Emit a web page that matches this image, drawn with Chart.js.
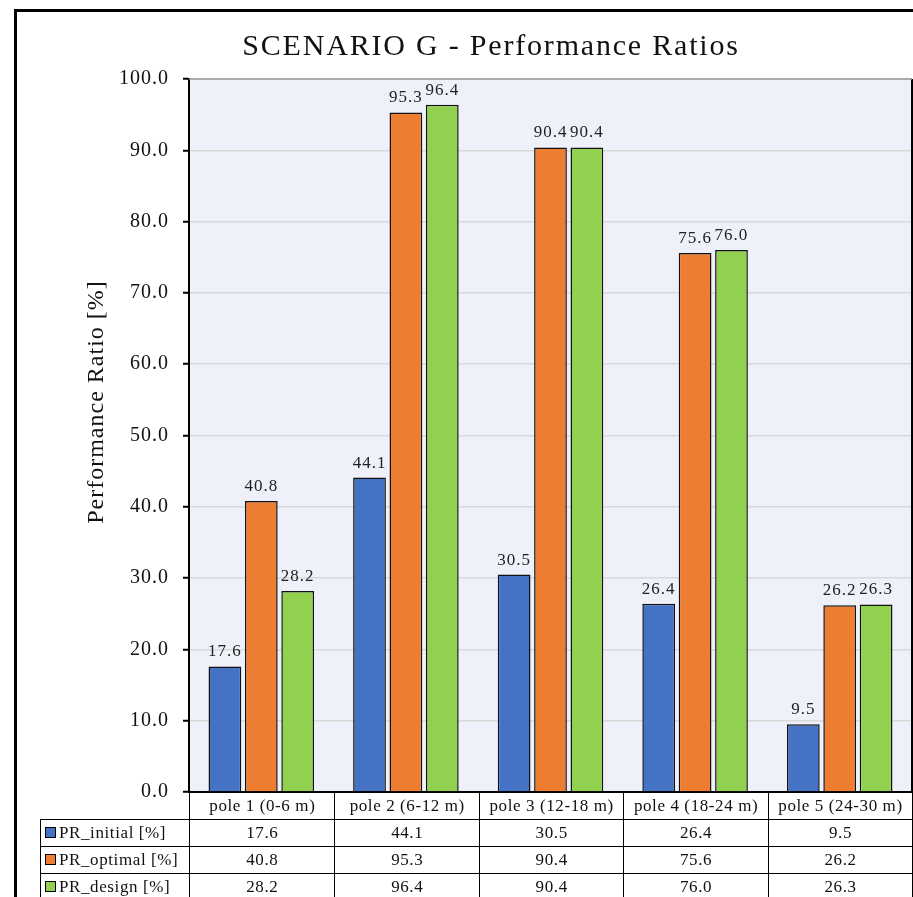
<!DOCTYPE html>
<html>
<head>
<meta charset="utf-8">
<script src="https://cdn.jsdelivr.net/npm/chart.js@4"></script>
<style>
  html, body { margin: 0; padding: 0; background: #fff; }
  #wrap { position: relative; width: 913px; height: 897px; overflow: hidden; }
  #frame { position: absolute; left: 14px; top: 9px; right: -10px; bottom: -10px;
           border-left: 3px solid #000; border-top: 3px solid #000; }
  #chart { position: absolute; left: 0; top: 0; }
  #dtable { position: absolute; left: 40px; top: 792px; border-collapse: collapse;
            font-family: "Liberation Serif", serif; font-size: 17px; letter-spacing: 0.6px; color: #111; }
  #dtable td { border: 1.5px solid #000; text-align: center; padding: 0; height: 26px; }
  #dtable td.blank { border: none; border-right: 1.5px solid #000; }
  #dtable td.lab { text-align: left; padding-left: 4px; white-space: nowrap; }
  .sw { display: inline-block; width: 9px; height: 9px; border: 1px solid #000; margin-right: 3px; vertical-align: 0px; }
</style>
</head>
<body>
<div id="wrap">
  <div id="frame"></div>
  <canvas id="chart" width="913" height="897"></canvas>
  <table id="dtable"></table>
</div>
<script>
// ----------- data -----------
const categories = ["pole 1 (0-6 m)", "pole 2 (6-12 m)", "pole 3 (12-18 m)", "pole 4 (18-24 m)", "pole 5 (24-30 m)"];
const seriesNames = ["PR_initial [%]", "PR_optimal [%]", "PR_design [%]"];
const prInitial = [17.6, 44.1, 30.5, 26.4, 9.5];
const prOptimal = [40.8, 95.3, 90.4, 75.6, 26.2];
const prDesign = [28.2, 96.4, 90.4, 76.0, 26.3];
const colors = ["#4472C4", "#ED7D31", "#92D050"];
const yMax = 100;
const yStep = 10;

const serif = "'Liberation Serif', serif";
const seriesValues = [prInitial, prOptimal, prDesign];

// data table under the plot
const table = document.getElementById("dtable");
const colW = [149, 145, 145, 144, 145, 144];
let html = "<tr><td class='blank' style='width:" + colW[0] + "px'></td>";
categories.forEach((c, i) => { html += "<td style='width:" + colW[i + 1] + "px'>" + c + "</td>"; });
html += "</tr>";
seriesNames.forEach((name, s) => {
  html += "<tr><td class='lab'><span class='sw' style='background:" + colors[s] + "'></span>" + name + "</td>";
  seriesValues[s].forEach(v => { html += "<td>" + v.toFixed(1) + "</td>"; });
  html += "</tr>";
});
table.innerHTML = html;

// background, frame, titles, value labels
const decor = {
  id: "decor",
  beforeDraw(chart) {
    const { ctx, chartArea: a } = chart;
    ctx.save();
    ctx.fillStyle = "#EEF1F9";
    ctx.fillRect(a.left, a.top, a.right - a.left, a.bottom - a.top);
    ctx.restore();
    // wider spacing for the tick labels (closer to the original serif face)
    ctx.letterSpacing = "1px";
  },
  afterDraw(chart) {
    const { ctx, chartArea: a } = chart;
    ctx.save();
    ctx.strokeStyle = "#000";
    ctx.lineWidth = 2;
    ctx.beginPath();
    ctx.moveTo(a.right, a.top);
    ctx.lineTo(a.right, a.bottom);
    ctx.stroke();
    ctx.strokeStyle = "#999";
    ctx.lineWidth = 1.5;
    ctx.beginPath();
    ctx.moveTo(a.left, a.top);
    ctx.lineTo(a.right, a.top);
    ctx.stroke();

    ctx.fillStyle = "#111";
    ctx.textAlign = "center";
    ctx.textBaseline = "alphabetic";
    ctx.font = "30px " + serif;
    ctx.letterSpacing = "1.8px";
    ctx.fillText("SCENARIO G - Performance Ratios", 491, 55);

    ctx.translate(97, 402);
    ctx.rotate(-Math.PI / 2);
    ctx.font = "24px " + serif;
    ctx.letterSpacing = "1px";
    ctx.textBaseline = "middle";
    ctx.fillText("Performance Ratio [%]", 0, 0);
    ctx.restore();
  },
  afterDatasetsDraw(chart) {
    const { ctx } = chart;
    ctx.save();
    ctx.font = "17px " + serif;
    ctx.letterSpacing = "1px";
    ctx.fillStyle = "#222";
    ctx.textAlign = "center";
    ctx.textBaseline = "bottom";
    chart.data.datasets.forEach((ds, i) => {
      chart.getDatasetMeta(i).data.forEach((bar, j) => {
        ctx.fillText(ds.data[j].toFixed(1), bar.x, bar.y - 6);
      });
    });
    ctx.restore();
  }
};

new Chart(document.getElementById("chart"), {
  type: "bar",
  data: {
    labels: categories,
    datasets: seriesNames.map((n, i) => ({
      label: n,
      data: seriesValues[i],
      backgroundColor: colors[i],
      borderColor: "#111",
      borderWidth: 1.5,
      categoryPercentage: 0.755,
      barPercentage: 0.9
    }))
  },
  options: {
    responsive: false,
    animation: false,
    layout: { padding: { top: 79, left: 0, right: 1, bottom: 105 } },
    plugins: { legend: { display: false }, tooltip: { enabled: false }, title: { display: false } },
    scales: {
      x: {
        ticks: { display: false },
        grid: { display: false },
        border: { color: "#000", width: 2 },
        afterFit: s => { s.height = 0; }
      },
      y: {
        min: 0, max: yMax,
        ticks: { stepSize: yStep, callback: v => v.toFixed(1), color: "#111", padding: 14,
                 font: { family: serif, size: 20 } },
        grid: { color: "#D9D9D9", lineWidth: 1.5, tickColor: "#000", tickLength: 6, tickWidth: 2 },
        border: { color: "#000", width: 2 },
        afterFit: s => { s.width = 189; }
      }
    }
  },
  plugins: [decor]
});
</script>
</body>
</html>
